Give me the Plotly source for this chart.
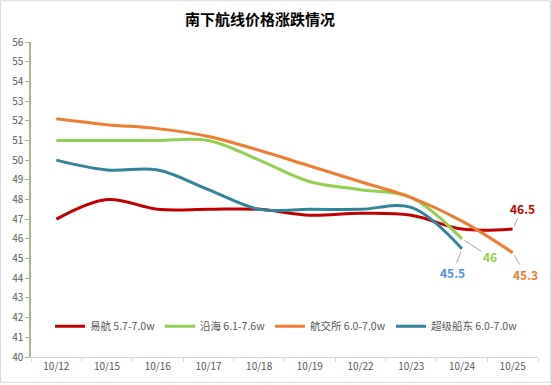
import plotly.graph_objects as go

categories = ["10/12", "10/15", "10/16", "10/17", "10/18", "10/19", "10/22", "10/23", "10/24", "10/25"]
yihang = [47.0, 48.0, 47.5, 47.5, 47.5, 47.2, 47.3, 47.2, 46.5, 46.5]
yanhai = [51.0, 51.0, 51.0, 51.0, 50.0, 48.9, 48.5, 48.1, 46.0, None]
hangjiaosuo = [52.1, 51.8, 51.6, 51.2, 50.5, 49.7, 48.9, 48.1, 46.9, 45.3]
chaoji = [50.0, 49.5, 49.5, 48.5, 47.5, 47.5, 47.5, 47.6, 45.5, None]

names = ["易航 5.7-7.0w", "沿海 6.1-7.6w", "航交所 6.0-7.0w", "超级船东 6.0-7.0w"]
colors = ["#C00000", "#92D050", "#ED7D31", "#31849B"]
series = [yihang, yanhai, hangjiaosuo, chaoji]

FONT = "Noto Sans CJK SC, Microsoft YaHei, sans-serif"

W, H = 551, 385
L, R, T, B = 31, 13, 42, 26
pw, ph = W - L - R, H - T - B

legend_ids = ["legend", "legend2", "legend3", "legend4"]
legend_px = [50, 160, 270, 391]

fig = go.Figure()
for n, c, s, lg in zip(names, colors, series, legend_ids):
    fig.add_trace(go.Scatter(
        x=categories, y=s, name=n, mode="lines", legend=lg,
        line=dict(color=c, width=3, shape="spline", smoothing=1.0),
        connectgaps=False,
    ))

# end labels
labels = [
    ("10/25", yihang[9], "46.5", "#C00000", 10, -21),
    ("10/24", yanhai[8], "46", "#92D050", 28, 18),
    ("10/24", chaoji[8], "45.5", "#4F8FE0", -9, 24),
    ("10/25", hangjiaosuo[9], "45.3", "#ED7D31", 13, 22),
]
for x, y, t, c, ax, ay in labels:
    fig.add_annotation(x=x, y=y, xref="x", yref="y", text="<b>%s</b>" % t,
                       showarrow=True, arrowhead=0, arrowwidth=1, arrowcolor="#A6A6A6",
                       ax=ax, ay=ay, standoff=3,
                       font=dict(color=c, size=12, family=FONT))

fig.add_shape(type="rect", xref="paper", yref="paper",
              x0=(0.5 - L) / pw, x1=(W - 0.5 - L) / pw,
              y0=(H - B - (H - 0.5)) / ph, y1=(H - B - 0.5) / ph,
              line=dict(color="#D9D9D9", width=1), fillcolor="rgba(0,0,0,0)", layer="below")

legend_cfg = {}
for lg, px in zip(legend_ids, legend_px):
    legend_cfg[lg] = dict(orientation="h", x=(px - L) / pw, xanchor="left",
                          y=(H - B - 328) / ph, yanchor="middle",
                          font=dict(size=10.5, color="#595959", family=FONT), itemwidth=30,
                          bgcolor="rgba(0,0,0,0)")

fig.update_layout(
    width=W, height=H,
    margin=dict(l=L, r=R, t=T, b=B),
    paper_bgcolor="white", plot_bgcolor="white",
    font=dict(family=FONT, color="#595959", size=10),
    title=dict(text="<b>南下航线价格涨跌情况</b>", x=260 / W, xanchor="center", y=1 - 20 / H, yanchor="middle",
               font=dict(size=15, color="#000000", family=FONT)),
    showlegend=True,
    xaxis=dict(type="category", showgrid=False, showline=True, linecolor="#D9D9D9", linewidth=1,
               ticks="outside", tickson="boundaries", ticklen=4, tickcolor="#D9D9D9",
               tickfont=dict(size=10, color="#595959"), range=[-0.5, 9.5], fixedrange=True),
    yaxis=dict(range=[40, 56], dtick=1, showgrid=False, showline=True, linecolor="#A6B98A", linewidth=1.5,
               ticks="outside", ticklen=4, tickcolor="#A6B98A", zeroline=False,
               tickfont=dict(size=10, color="#595959"), fixedrange=True),
    **legend_cfg,
)

fig.write_html("out.html", config={"displayModeBar": False},
               post_script="document.body.style.margin='0';document.body.style.overflow='hidden';")
